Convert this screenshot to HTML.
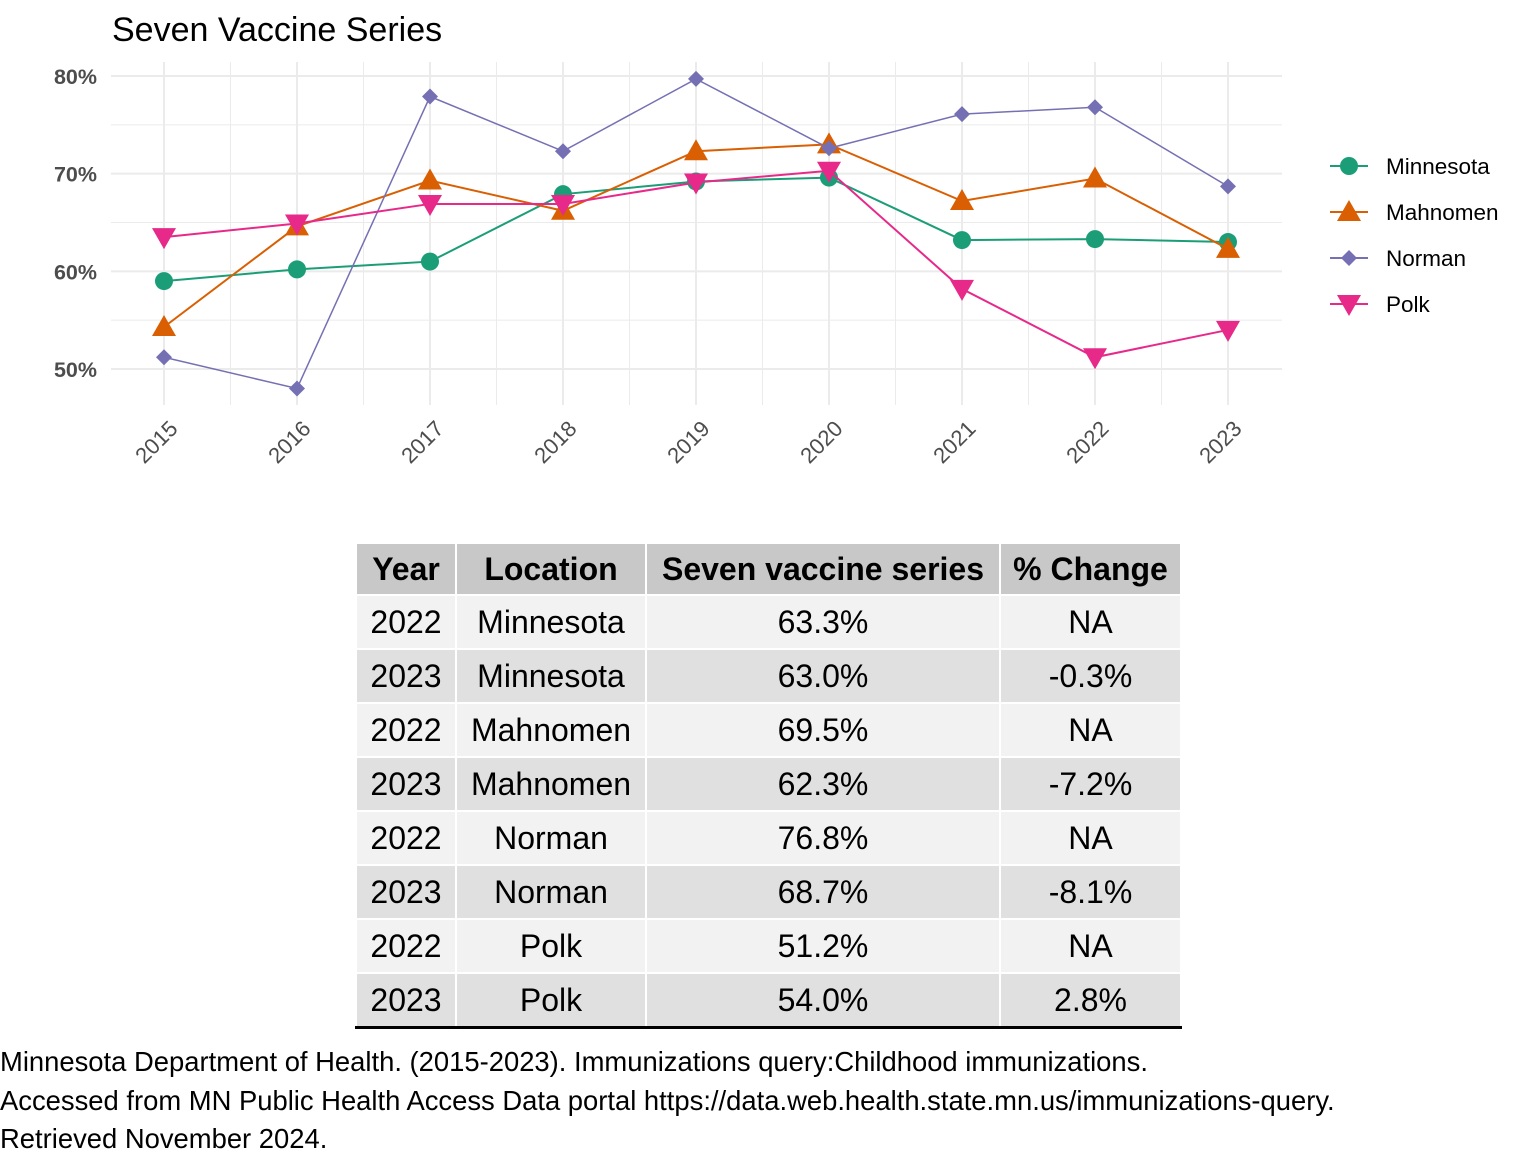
<!DOCTYPE html>
<html><head><meta charset="utf-8"><style>
body{margin:0;width:1536px;height:1152px;background:#fff;font-family:"Liberation Sans",sans-serif;position:relative;overflow:hidden}
svg{position:absolute;left:0;top:0}
table{position:absolute;left:355px;top:542px;border-collapse:collapse;font-size:32px;color:#000}
td,th{text-align:center;height:52px;padding:0;border:2px solid #fff}
th{background:#c8c8c8;font-weight:bold;height:50px}
tbody tr:nth-child(odd) td{background:#f2f2f2}
tbody tr:nth-child(even) td{background:#e0e0e0}
tbody tr:last-child td{border-bottom:3px solid #000}
.src{position:absolute;left:0;font-size:27.4px;color:#000;white-space:nowrap}
</style></head><body>
<svg width="1536" height="520" id="chart"></svg>
<table>
<thead><tr><th style="width:98px">Year</th><th style="width:188px">Location</th><th style="width:352px">Seven vaccine series</th><th style="width:179px">% Change</th></tr></thead>
<tbody>
<tr><td>2022</td><td>Minnesota</td><td>63.3%</td><td>NA</td></tr>
<tr><td>2023</td><td>Minnesota</td><td>63.0%</td><td>-0.3%</td></tr>
<tr><td>2022</td><td>Mahnomen</td><td>69.5%</td><td>NA</td></tr>
<tr><td>2023</td><td>Mahnomen</td><td>62.3%</td><td>-7.2%</td></tr>
<tr><td>2022</td><td>Norman</td><td>76.8%</td><td>NA</td></tr>
<tr><td>2023</td><td>Norman</td><td>68.7%</td><td>-8.1%</td></tr>
<tr><td>2022</td><td>Polk</td><td>51.2%</td><td>NA</td></tr>
<tr><td>2023</td><td>Polk</td><td>54.0%</td><td>2.8%</td></tr>
</tbody></table>
<div class="src" style="top:1046px">Minnesota Department of Health. (2015-2023). Immunizations query:Childhood immunizations.</div>
<div class="src" style="top:1085px">Accessed from MN Public Health Access Data portal https://data.web.health.state.mn.us/immunizations-query.</div>
<div class="src" style="top:1123px">Retrieved November 2024.</div>
<script>
const years=[2015,2016,2017,2018,2019,2020,2021,2022,2023];
const yTicks=[50,60,70,80];
const seriesNames=["Minnesota","Mahnomen","Norman","Polk"];
const minnesota=[59.0,60.2,61.0,67.9,69.2,69.6,63.2,63.3,63.0];
const mahnomen=[54.3,64.6,69.3,66.2,72.3,73.0,67.2,69.5,62.3];
const norman=[51.2,48.0,77.9,72.3,79.7,72.6,76.1,76.8,68.7];
const polk=[63.5,64.9,66.9,66.9,69.1,70.3,58.2,51.2,54.0];
const colors=["#1b9e77","#d95f02","#7570b3","#e7298a"];
const shapes=["circle","up","diamond","down"];
const svg=document.getElementById('chart');
const NS='http://www.w3.org/2000/svg';
const X0=111,X1=1282,Y0=62,Y1=405;
const x=i=>164+(1228-164)*(years[i]-2015)/(2023-2015);
const y=v=>76+(80-v)*(369-76)/30;
function mk(t,a,p){const e=document.createElementNS(NS,t);for(const k in a)e.setAttribute(k,a[k]);(p||svg).appendChild(e);return e;}
let t=mk('text',{x:112,y:41,'font-size':34,fill:'#000'});t.textContent='Seven Vaccine Series';


[55,65,75].forEach(v=>mk('line',{x1:X0,x2:X1,y1:y(v),y2:y(v),stroke:'#ebebeb','stroke-width':1}));
for(let i=0;i<years.length-1;i++){const xm=(x(i)+x(i+1))/2;mk('line',{x1:xm,x2:xm,y1:Y0,y2:Y1,stroke:'#ebebeb','stroke-width':1});}
yTicks.forEach(v=>{mk('line',{x1:X0,x2:X1,y1:y(v),y2:y(v),stroke:'#ebebeb','stroke-width':2});
 const l=mk('text',{x:97,y:y(v)+8,'text-anchor':'end','font-size':21.5,'font-weight':'bold',fill:'#4d4d4d'});l.textContent=v+'%';
 
 });
years.forEach((yr,i)=>{mk('line',{x1:x(i),x2:x(i),y1:Y0,y2:Y1,stroke:'#ebebeb','stroke-width':2});
 const l=mk('text',{x:x(i)+15,y:430,'text-anchor':'end','font-size':22,fill:'#4d4d4d',transform:`rotate(-45 ${x(i)+15} 430)`});l.textContent=yr;
 
 });
function marker(s,cx,cy,c,g){
 if(s==='circle')return mk('circle',{cx,cy,r:9,fill:c},g);
 if(s==='up')return mk('polygon',{points:`${cx},${cy-12} ${cx-12},${cy+9} ${cx+12},${cy+9}`,fill:c},g);
 if(s==='down')return mk('polygon',{points:`${cx},${cy+12} ${cx-12},${cy-9} ${cx+12},${cy-9}`,fill:c},g);
 return mk('polygon',{points:`${cx},${cy-8} ${cx+8},${cy} ${cx},${cy+8} ${cx-8},${cy}`,fill:c},g);
}
[minnesota,mahnomen,norman,polk].forEach((d,s)=>{
 const g=mk('g',{});
 
 
 mk('polyline',{points:d.map((v,i)=>x(i)+','+y(v)).join(' '),fill:'none',stroke:colors[s],'stroke-width':s===2?1.5:2},g);
 d.forEach((v,i)=>{const m=marker(shapes[s],x(i),y(v),colors[s],g);
  
  });
 const ly=166+s*46;
 const lg=mk('g',{});
 
 
 mk('line',{x1:1330,x2:1368,y1:ly,y2:ly,stroke:colors[s],'stroke-width':2},lg);
 marker(shapes[s],1349,ly,colors[s],lg);
 const lt=mk('text',{x:1386,y:ly+8,'font-size':22.5,fill:'#000'},lg);lt.textContent=seriesNames[s];
});
</script>
</body></html>
